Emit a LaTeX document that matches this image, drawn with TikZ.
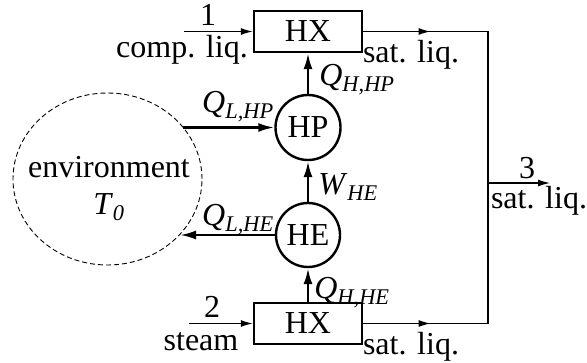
\documentclass[tikz,border=0pt]{standalone}
\usepackage{fontspec}
\setmainfont{Liberation Serif}
\usetikzlibrary{arrows.meta,shapes.geometric,decorations.markings}
\newcommand{\qsym}[2]{\textit{#1}\textsubscript{\textit{#2}}}

\begin{document}
\begin{tikzpicture}[x=1pt,y=1pt,font=\fontsize{32}{34}\selectfont,
  unit/.style={draw,line width=2.4pt,inner sep=0pt},
  lbl/.style={inner sep=1pt},
  heat/.style={-{Latex[length=16pt,width=9pt]},line width=2.4pt},
  flow/.style={-{Latex[length=12pt,width=7pt]},line width=1.2pt},
  pipe/.style={line width=1.2pt,postaction={decorate},
    decoration={markings,mark=at position #1 with {\arrow{Latex[length=12pt,width=7pt]}}}}]
\useasboundingbox (0,0) rectangle (587,362);
% units
\node[unit,minimum width=108,minimum height=41] (hxa) at (308,330.5){HX};
\node[unit,minimum width=108,minimum height=41] (hxb) at (308,38.5){HX};
\node[unit,circle,minimum size=65] (hp) at (308,234.5){HP};
\node[unit,circle,minimum size=64] (he) at (308,127){HE};
\node[draw,dash pattern=on 5pt off 3pt,line width=.9pt,ellipse,minimum width=189,minimum height=172,inner sep=0pt] (env) at (107.5,183){};
\node[lbl] (envtxt) at (109,195){environment};
\node[lbl] (tzero) at (109,155){\qsym{T}{0}};
% streams
\coordinate (in1) at (184,330.5);
\coordinate (in2) at (189,38.5);
\coordinate (mixa) at (488,330.5);
\coordinate (mixb) at (488,38.5);
\coordinate (mix) at (488,179);
\coordinate (out3) at (550,179);
\draw[flow] (in1) -- (hxa.west);
\draw[flow] (in2) -- (hxb.west);
\draw[pipe=.54] (hxa.east) -- (mixa);
\draw[pipe=.54] (hxb.east) -- (mixb);
\draw[line width=1.2pt] (mixa) -- (mixb);
\draw[flow] (mix) -- (out3);
% heat and work
\coordinate (lhp) at (183,234.5);
\coordinate (lhe) at (180,127);
\draw[heat] (hp) -- (hxa);
\draw[heat] (he) -- (hp);
\draw[heat] (hxb) -- (he);
\draw[heat] (lhp) -- (hp.west);
\draw[heat] (he.west) -- (lhe);
% labels
\node[lbl] (n1) at (208,347){1};
\node[lbl] (cl) at (182,312){comp. liq.};
\node[lbl] (n2) at (212,55){2};
\node[lbl] (st) at (201,20){steam};
\node[lbl] (sla) at (411,307){sat. liq.};
\node[lbl] (slb) at (411,15){sat. liq.};
\node[lbl] (n3) at (527,194){3};
\node[lbl] (slc) at (539,161){sat. liq.};
\node[lbl] (qhhp) at (357,282){\qsym{Q}{H,HP}};
\node[lbl] (whe) at (348,175){\qsym{W}{HE}};
\node[lbl] (qhhe) at (352,69){\qsym{Q}{H,HE}};
\node[lbl] (qlhp) at (238,255){\qsym{Q}{L,HP}};
\node[lbl] (qlhe) at (238,142){\qsym{Q}{L,HE}};
\end{tikzpicture}
\end{document}
